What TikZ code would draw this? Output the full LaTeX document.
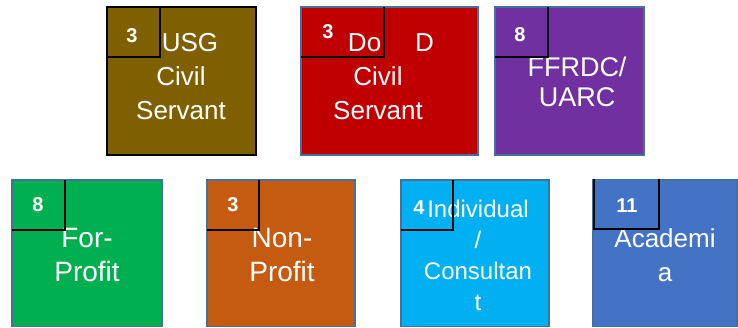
\documentclass[tikz,border=0pt]{standalone}
\usepackage{fontspec}
\setmainfont{Liberation Sans}
\definecolor{usgfill}{HTML}{7F6000}
\definecolor{dodfill}{HTML}{C00000}
\definecolor{ffrdcfill}{HTML}{7030A0}
\definecolor{forfill}{HTML}{00B050}
\definecolor{nonfill}{HTML}{C55A11}
\definecolor{indfill}{HTML}{00B0F0}
\definecolor{acadfill}{HTML}{4472C4}
\definecolor{boxedge}{HTML}{41719C}
\begin{document}
\begin{tikzpicture}[x=1pt,y=-1pt,
  txt/.style={text=white,font=\fontsize{26}{34}\selectfont,align=center,inner sep=0pt},
  num/.style={text=white,font=\fontsize{20}{22}\selectfont\bfseries,inner sep=0pt}]
\useasboundingbox (0,0) rectangle (738,328);
% outer boxes
\foreach \xa/\ya/\xb/\yb/\c/\e in {107/7/256/155/usgfill/black,301/7/478/155/dodfill/boxedge,495/7/644/155/ffrdcfill/boxedge,12/180/162/326.5/forfill/boxedge,207/180/355/326.5/nonfill/boxedge,401/180/549/326.5/indfill/boxedge,593/180/737/326.5/acadfill/boxedge} {
  \draw[line width=1.5pt,draw=\e,fill=\c] (\xa,\ya) rectangle (\xb,\yb);
}
% labels
\node[txt] (usg) at (181,77) {\hspace*{18pt}USG\\Civil\\Servant};
\node[txt] (dod) at (378,77) {\hspace*{26pt}Do\hspace{34pt}D\\Civil\\Servant};
\node[txt,font=\fontsize{27}{30}\selectfont] (ffrdc) at (577,82) {FFRDC/\\UARC};
\node[txt,font=\fontsize{28}{34}\selectfont] (forprofit) at (87,255) {For-\\Profit};
\node[txt,font=\fontsize{28}{34}\selectfont] (nonprofit) at (282,255) {Non-\\Profit};
\node[txt,font=\fontsize{24}{31}\selectfont] (indiv) at (478,255) {Individual\\/\\Consultan\\t};
\node[txt] (acad) at (665,255) {Academi\\a};
% count boxes
\foreach \xa/\ya/\xb/\yb in {107/7/160/57,301/7/384/57,495/7/548/57,12/180/65/230,207/180/259/230,401/180/453/230} {
  \draw[line width=1.2pt] (\xa,\yb) -- (\xb,\yb) -- (\xb,\ya);
}
\fill[acadfill] (594,180) rectangle (659,229);
\draw[line width=1.2pt] (594,179) -- (594,229) -- (659,229) -- (659,179);
% counts
\node[num] (nusg) at (132,36) {3};
\node[num] (ndod) at (328,32) {3};
\node[num] (nffrdc) at (520,35) {8};
\node[num] (nfor) at (38,205) {8};
\node[num] (nnon) at (233,205) {3};
\node[num] (nind) at (419,208) {4};
\node[num] (nacad) at (627,206) {11};
\end{tikzpicture}
\end{document}
